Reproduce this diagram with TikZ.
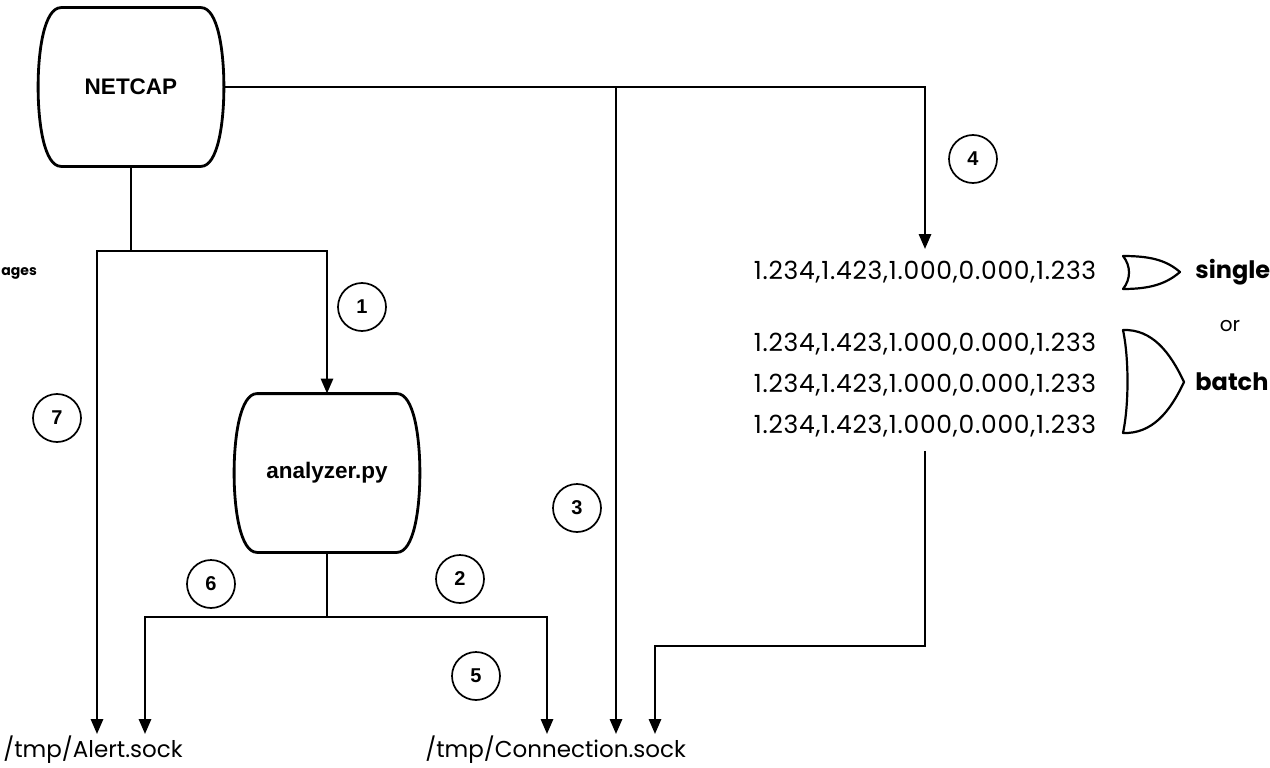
\documentclass[tikz,border=0pt]{standalone}
\usepackage{fontspec}
\setmainfont{Liberation Sans}
\newfontfamily\geofont{Poppins}
\newfontfamily\rowfont[LetterSpace=3]{Poppins}
\usetikzlibrary{arrows.meta, positioning, calc}

% barrel outline round a process node
\newcommand{\barrel}[1]{%
  \draw[line width=2.8pt] ([xshift=23pt]#1.north west) -- ([xshift=-23pt]#1.north east)
    .. controls ([xshift=-6pt]#1.north east) and ([yshift=36pt]#1.east) .. (#1.east)
    .. controls ([yshift=-36pt]#1.east) and ([xshift=-6pt]#1.south east) .. ([xshift=-23pt]#1.south east)
    -- ([xshift=23pt]#1.south west)
    .. controls ([xshift=6pt]#1.south west) and ([yshift=-36pt]#1.west) .. (#1.west)
    .. controls ([yshift=36pt]#1.west) and ([xshift=6pt]#1.north west) .. cycle;}

\begin{document}
\begin{tikzpicture}[x=1pt, y=-1pt, line width=2.8pt, >={Triangle[length=15pt,width=12pt]},
    proc/.style={rectangle, minimum width=183pt, minimum height=156pt, inner sep=0pt,
      font=\fontsize{22.5}{26}\selectfont\bfseries},
    num/.style={circle, draw, line width=1.7pt, minimum size=48pt, inner sep=0pt,
      font=\bfseries\fontsize{20}{22}\selectfont},
    row/.style={inner xsep=0pt, inner ysep=12pt, text height=17pt, text depth=4pt,
      font=\rowfont\fontsize{25}{28}\selectfont},
    sock/.style={anchor=west, inner xsep=0pt, inner ysep=4pt, text height=18pt, text depth=5pt,
      font=\geofont\fontsize{23}{28}\selectfont},
    tag/.style={anchor=west, inner sep=0pt, font=\geofont\bfseries\fontsize{24}{28}\selectfont},
    gate/.style={line width=2.2pt, line join=round}]
  \useasboundingbox (0,0) rectangle (1270,768);

  % processes
  \node[proc] (netcap) at (131,87) {NETCAP};
  \node[proc] (analyzer) at (327,473) {analyzer.py};
  \barrel{netcap}
  \barrel{analyzer}

  % sockets
  \node[sock] (alert) at (2,751) {/tmp/Alert.sock};
  \node[sock] (conn) at (424,751) {/tmp/Connection.sock};

  % output rows
  \node[row] (r1) at (925,273) {1.234,1.423,1.000,0.000,1.233};
  \node[row] (r2) at (925,345) {1.234,1.423,1.000,0.000,1.233};
  \node[row] (r3) at (925,386) {1.234,1.423,1.000,0.000,1.233};
  \node[row] (r4) at (925,427) {1.234,1.423,1.000,0.000,1.233};

  \draw[gate] (1123,256) .. controls (1150,256) and (1166,260) .. (1180,272)
    .. controls (1166,284) and (1150,289) .. (1123,289)
    .. controls (1131,279) and (1131,266) .. cycle;
  \draw[gate] (1123,330) .. controls (1152,329) and (1170,352) .. (1184,382)
    .. controls (1170,412) and (1152,434) .. (1123,433)
    .. controls (1129,405) and (1129,358) .. cycle;
  \node[tag] (single) at (1194,272) {single};
  \node[inner sep=0pt, font=\geofont\fontsize{20}{24}\selectfont] (or) at (1230,326) {or};
  \node[tag] (batch) at (1194,382) {batch};
  \node[anchor=west, inner sep=0pt, font=\geofont\bfseries\fontsize{14}{16}\selectfont] (ages) at (0,273) {ages};

  % junctions
  \coordinate (tap) at (616,87);
  \coordinate (split) at (131,251);
  \coordinate (a7) at (97,251);
  \coordinate (fork) at (327,617);
  \coordinate (a6) at (145,617);
  \coordinate (a2) at (547,617);
  \coordinate (back) at (655,646);

  % connectors
  \draw[->] (netcap.east) -| (r1.north);
  \draw[->] (tap) -- (tap |- conn.north);
  \draw (netcap.south) -- (split);
  \draw[->] (split) -| (analyzer.north);
  \draw[->] (split) -- (a7) -- (a7 |- alert.north);
  \draw (analyzer.south) -- (fork);
  \draw[->] (fork) -- (a6) -- (a6 |- alert.north);
  \draw[->] (fork) -- (a2) -- (a2 |- conn.north);
  \draw[->] (r4.south) |- (back) -- (back |- conn.north);

  % step numbers
  \node[num] (n1) at (362,307) {1};
  \node[num] (n2) at (460,579) {2};
  \node[num] (n3) at (577,508) {3};
  \node[num] (n4) at (973,159) {4};
  \node[num] (n5) at (476,676) {5};
  \node[num] (n6) at (211,584) {6};
  \node[num] (n7) at (57,418) {7};
\end{tikzpicture}
\end{document}
